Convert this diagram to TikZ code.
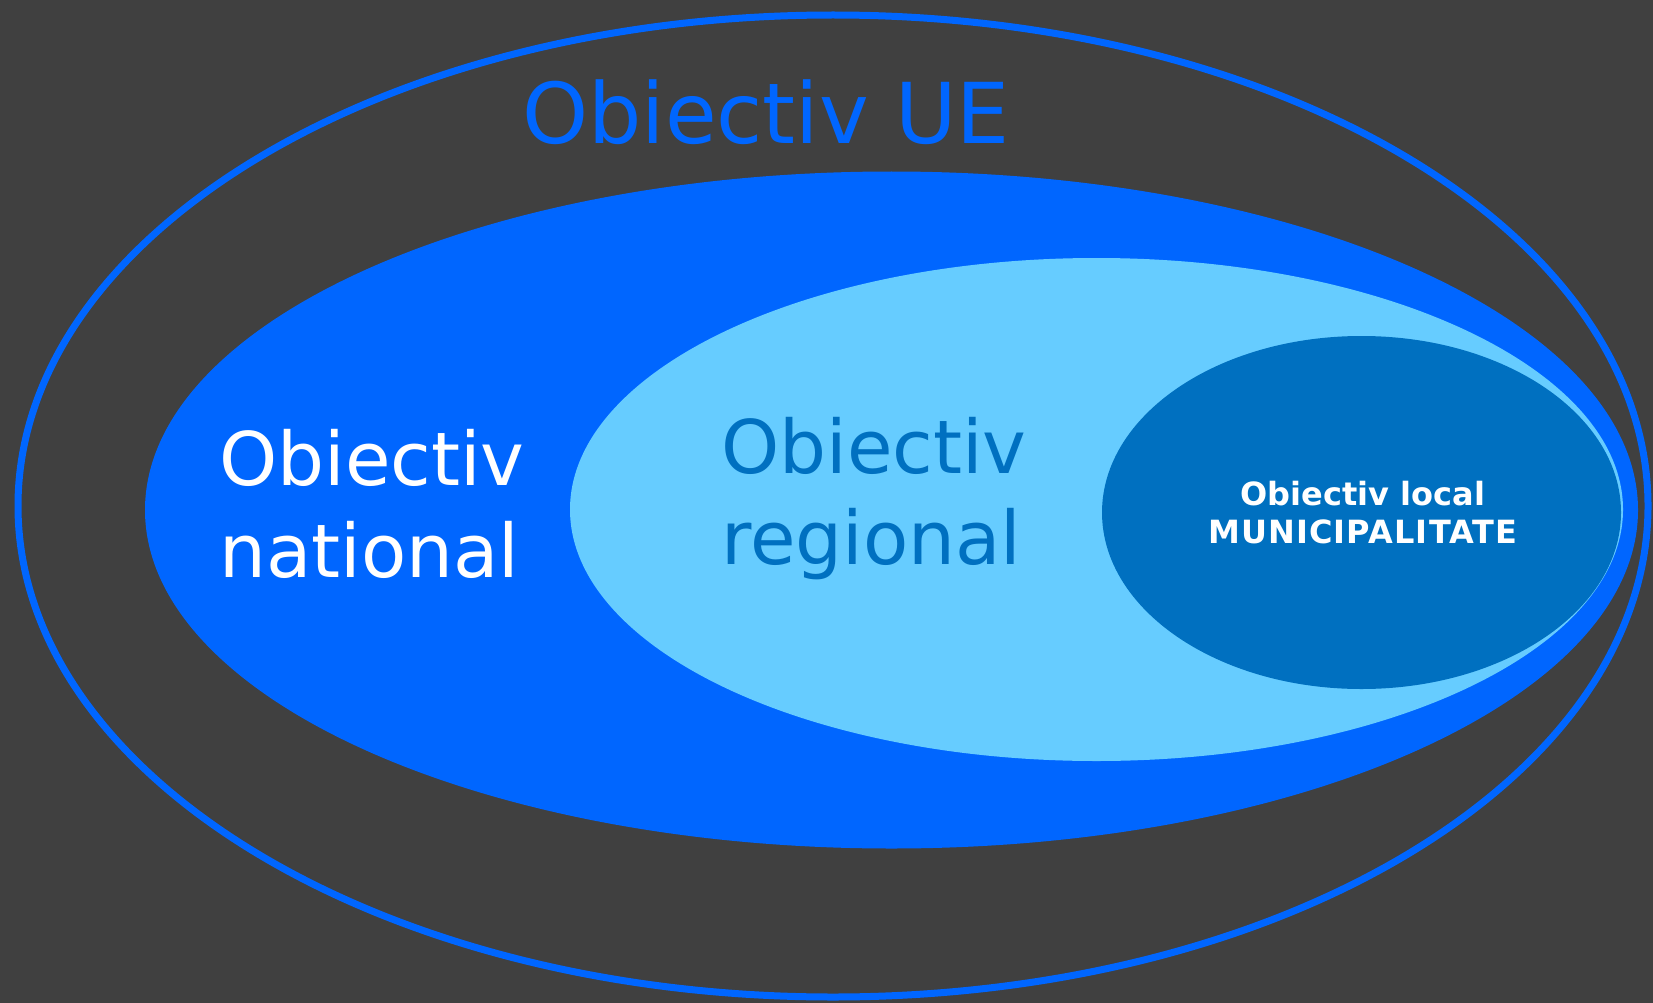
\documentclass[tikz,border=0pt]{standalone}
\usepackage{fontspec}
\setmainfont{DejaVu Sans}
\newfontfamily\widebold[LetterSpace=3.5]{DejaVu Sans}
\definecolor{bg}{HTML}{404040}
\definecolor{ueblue}{HTML}{0066FF}
\definecolor{regblue}{HTML}{66CCFF}
\definecolor{locblue}{HTML}{0070C0}
\begin{document}
\begin{tikzpicture}[x=1pt,y=-1pt,
  lbl/.style={inner sep=0pt, anchor=base west},
  bigfont/.style={font=\fontsize{84}{92}\selectfont},
  midfont/.style={font=\fontsize{74}{90}\selectfont},
  locfont/.style={font=\fontsize{32}{39}\selectfont\bfseries},
  locwide/.style={font=\widebold\fontsize{32}{39}\selectfont\bfseries}]
\fill[bg] (0,0) rectangle (1653,1003);
\useasboundingbox (0,0) rectangle (1653,1003);
% outer ellipse
\draw[ueblue, line width=7pt] (833,506) ellipse [x radius=815, y radius=491];
% national
\fill[ueblue] (891.5,510) ellipse [x radius=746.5, y radius=338.5];
% regional
\fill[regblue] (1096.5,509.5) ellipse [x radius=526.5, y radius=251.5];
% local
\fill[locblue] (1361.5,512.5) ellipse [x radius=259.5, y radius=176.5];
% texts
\node[lbl, bigfont, text=ueblue] (ue) at (522,144) {Obiectiv UE};
\node[lbl, midfont, text=white] (nat1) at (219,485) {Obiectiv};
\node[lbl, midfont, text=white] (nat2) at (219,577) {national};
\node[lbl, midfont, text=locblue] (reg1) at (721,473) {Obiectiv};
\node[lbl, midfont, text=locblue] (reg2) at (721,564) {regional};
\node[inner sep=0pt, anchor=base, locfont, text=white] (loc1) at (1363,505) {Obiectiv local};
\node[inner sep=0pt, anchor=base, locwide, text=white] (loc2) at (1363,543) {MUNICIPALITATE};
\end{tikzpicture}
\end{document}
